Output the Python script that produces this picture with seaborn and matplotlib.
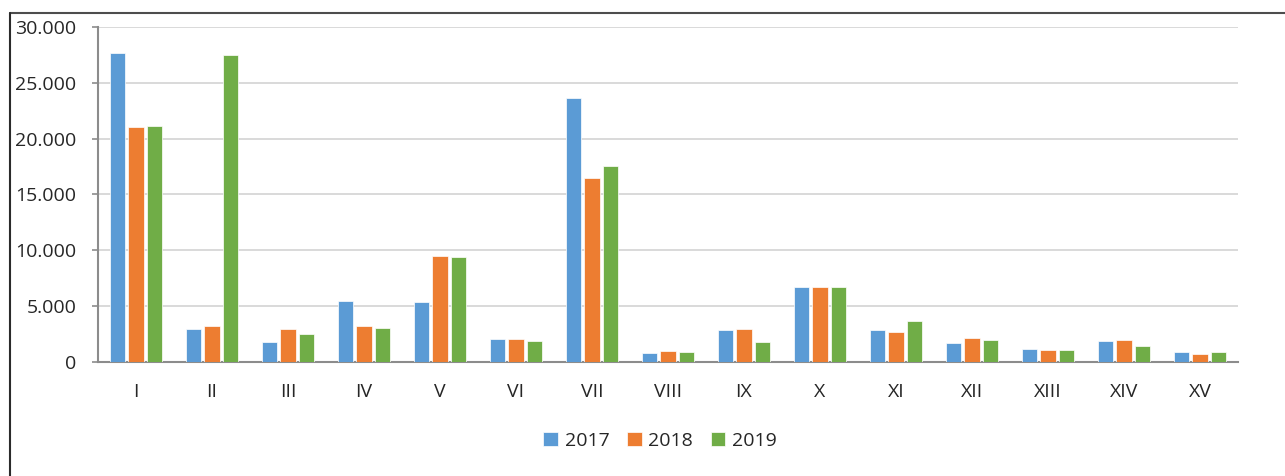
import matplotlib
matplotlib.use("Agg")
import matplotlib.pyplot as plt
from matplotlib.lines import Line2D
from matplotlib.ticker import FuncFormatter, FixedLocator
import numpy as np
import pandas as pd
import seaborn as sns

categories = ["I", "II", "III", "IV", "V", "VI", "VII", "VIII",
              "IX", "X", "XI", "XII", "XIII", "XIV", "XV"]
years = ["2017", "2018", "2019"]
vals_2017 = [27650, 3000, 1750, 5450, 5350, 2100, 23640, 800,
             2900, 6750, 2900, 1700, 1150, 1900, 900]
vals_2018 = [21000, 3200, 3000, 3200, 9490, 2100, 16480, 950,
             3000, 6750, 2700, 2150, 1100, 1950, 720]
vals_2019 = [21100, 27480, 2550, 3050, 9400, 1850, 17550, 930,
             1780, 6750, 3650, 1950, 1100, 1450, 870]
colors = ["#5B9BD5", "#ED7D31", "#70AD47"]

df = pd.DataFrame({
    "cat": categories * 3,
    "year": [y for y in years for _ in categories],
    "value": vals_2017 + vals_2018 + vals_2019,
})

sns.set_style("white")
plt.rcParams["font.family"] = ["Open Sans", "DejaVu Sans"]

fig = plt.figure(figsize=(12.85, 4.76), dpi=100)
ax = fig.add_axes([98 / 1285, 1 - 362 / 476, (1238 - 98) / 1285, (362 - 27) / 476])

sns.barplot(data=df, x="cat", y="value", hue="year", order=categories,
            hue_order=years, palette=colors, width=0.72, gap=0.16,
            edgecolor="white", linewidth=0.5, saturation=1, ax=ax, zorder=3)

ax.set_xlim(-0.5, len(categories) - 0.5)
ax.set_ylim(0, 30000)
ax.set_yticks(np.arange(0, 30001, 5000))
ax.yaxis.set_major_formatter(FuncFormatter(lambda v, p: f"{int(v):,}".replace(",", ".")))
ax.grid(axis="y", color="#D0D0D0", linewidth=1.1, zorder=0)
ax.set_axisbelow(True)

# category boundaries as major ticks, labels on minor ticks at centres
ax.xaxis.set_major_locator(FixedLocator(np.arange(-0.5, len(categories), 1.0)))
ax.xaxis.set_minor_locator(FixedLocator(np.arange(len(categories))))
ax.set_xticklabels([], minor=False)
ax.set_xticklabels(categories, minor=True)
ax.tick_params(axis="x", which="major", length=5, width=1.5, color="#8C8C8C", direction="out")
ax.tick_params(axis="x", which="minor", length=0, pad=15, labelsize=14)
ax.tick_params(axis="y", length=4.5, width=1.2, color="#8C8C8C", direction="out",
               pad=11, labelsize=14, left=True)
ax.set_xlabel("")
ax.set_ylabel("")

for side in ["top", "right"]:
    ax.spines[side].set_visible(False)
for side in ["left", "bottom"]:
    ax.spines[side].set_color("#8C8C8C")
    ax.spines[side].set_linewidth(1.5)

handles, labels = ax.get_legend_handles_labels()
ax.legend_.remove()
fig.legend(handles, labels, loc="center", bbox_to_anchor=(660 / 1285, 1 - 441 / 476),
           ncol=3, frameon=False, fontsize=14, handlelength=0.75, handleheight=0.75,
           handletextpad=0.35, columnspacing=0.9)

# outer chart-area frame (top and left edges visible)
fig.add_artist(Line2D([10 / 1285, 1.0], [1 - 13 / 476, 1 - 13 / 476],
                      transform=fig.transFigure, color="#4D4D4D", linewidth=1.5))
fig.add_artist(Line2D([10 / 1285, 10 / 1285], [0.0, 1 - 13 / 476],
                      transform=fig.transFigure, color="#2B2B2B", linewidth=1.5))

fig.savefig("out.png", dpi=100)
